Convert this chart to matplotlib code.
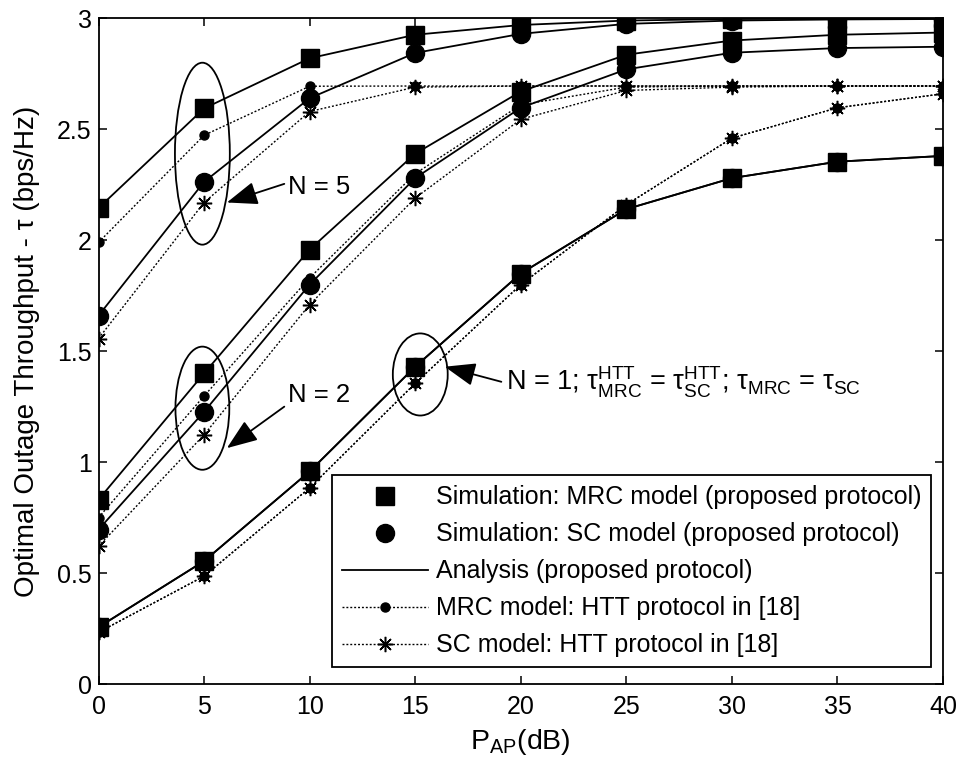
import matplotlib
matplotlib.use('Agg')
import matplotlib.pyplot as plt
from matplotlib.lines import Line2D
from matplotlib.patches import Ellipse

plt.rcParams['font.family'] = ['Liberation Sans', 'DejaVu Sans']
plt.rcParams['mathtext.fontset'] = 'custom'
plt.rcParams['mathtext.rm'] = 'Liberation Sans'
plt.rcParams['mathtext.it'] = 'Liberation Sans'
plt.rcParams['mathtext.sf'] = 'Liberation Sans'

p_ap = [0, 5, 10, 15, 20, 25, 30, 35, 40]

# N = 5
mrc_n5 = [2.145, 2.594, 2.82, 2.926, 2.97, 2.99, 2.997, 2.999, 3.0]
sc_n5 = [1.66, 2.263, 2.64, 2.844, 2.93, 2.975, 2.99, 2.995, 2.997]
htt_mrc_n5 = [1.99, 2.473, 2.694, 2.695, 2.695, 2.695, 2.695, 2.695, 2.695]
htt_sc_n5 = [1.557, 2.17, 2.58, 2.69, 2.695, 2.695, 2.695, 2.695, 2.695]

# N = 2
mrc_n2 = [0.831, 1.40, 1.958, 2.39, 2.67, 2.836, 2.90, 2.926, 2.936]
sc_n2 = [0.696, 1.227, 1.80, 2.28, 2.597, 2.77, 2.845, 2.866, 2.872]
htt_mrc_n2 = [0.75, 1.298, 1.83, 2.30, 2.61, 2.69, 2.695, 2.695, 2.695]
htt_sc_n2 = [0.621, 1.123, 1.71, 2.19, 2.545, 2.675, 2.69, 2.695, 2.695]

# N = 1 (MRC = SC, HTT MRC = HTT SC)
mrc_n1 = [0.256, 0.554, 0.958, 1.43, 1.85, 2.14, 2.28, 2.354, 2.38]
sc_n1 = [0.256, 0.554, 0.958, 1.43, 1.85, 2.14, 2.28, 2.354, 2.38]
htt_mrc_n1 = [0.233, 0.486, 0.884, 1.355, 1.80, 2.16, 2.46, 2.597, 2.66]
htt_sc_n1 = [0.233, 0.486, 0.884, 1.355, 1.80, 2.16, 2.46, 2.597, 2.66]

legend_labels = ['Simulation: MRC model (proposed protocol)',
                 'Simulation: SC model (proposed protocol)',
                 'Analysis (proposed protocol)',
                 'MRC model: HTT protocol in [18]',
                 'SC model: HTT protocol in [18]']

dot_style = (0, (1.4, 1.4))
star = (8, 2, 0)


def draw_group(ax, mrc, sc, htt_mrc, htt_sc):
    ax.plot(p_ap, htt_mrc, color='k', linestyle=dot_style, lw=1.0,
            marker='o', ms=6.5)
    ax.plot(p_ap, htt_sc, color='k', linestyle=dot_style, lw=1.0,
            marker=star, ms=11, mew=1.1)
    ax.plot(p_ap, mrc, color='k', lw=1.3)
    ax.plot(p_ap, sc, color='k', lw=1.3)
    ax.plot(p_ap, mrc, 's', color='k', ms=12.5)
    ax.plot(p_ap, sc, 'o', color='k', ms=13)


def arrow(ax, tip, tail):
    ax.annotate('', xy=tip, xytext=tail,
                arrowprops=dict(arrowstyle='-|>,head_length=0.95,head_width=0.36',
                                mutation_scale=20, lw=1.3, color='k',
                                shrinkA=0, shrinkB=0))


def main():
    fig = plt.figure(figsize=(9.61, 7.67), dpi=100)
    ax = fig.add_axes([0.1025, 0.1082, 0.9813 - 0.1025, 0.9761 - 0.1082])

    draw_group(ax, mrc_n5, sc_n5, htt_mrc_n5, htt_sc_n5)
    draw_group(ax, mrc_n2, sc_n2, htt_mrc_n2, htt_sc_n2)
    draw_group(ax, mrc_n1, sc_n1, htt_mrc_n1, htt_sc_n1)

    # ellipses + arrows
    ax.add_patch(Ellipse((4.92, 2.39), 2.6, 0.82, fill=False, lw=1.3, color='k'))
    ax.add_patch(Ellipse((4.92, 1.243), 2.55, 0.555, fill=False, lw=1.3, color='k'))
    ax.add_patch(Ellipse((15.24, 1.395), 2.6, 0.37, fill=False, lw=1.3, color='k'))

    arrow(ax, (6.08, 2.17), (8.8, 2.254))
    arrow(ax, (6.08, 1.063), (8.8, 1.25))
    arrow(ax, (16.4, 1.43), (19.08, 1.362))

    ax.text(8.97, 2.207, 'N = 5', fontsize=18.5, va='baseline')
    ax.text(8.97, 1.272, 'N = 2', fontsize=18.5, va='baseline')
    ax.text(19.3, 1.325,
            r'N = 1; $\mathregular{\tau^{HTT}_{MRC}}$ = '
            r'$\mathregular{\tau^{HTT}_{SC}}$; $\mathregular{\tau_{MRC}}$ = '
            r'$\mathregular{\tau_{SC}}$',
            fontsize=19.5, va='baseline')

    ax.set_xlim(0, 40)
    ax.set_ylim(0, 3)
    ax.set_xticks(p_ap)
    ax.set_yticks([0, 0.5, 1, 1.5, 2, 2.5, 3])
    ax.set_yticklabels(['0', '0.5', '1', '1.5', '2', '2.5', '3'])
    ax.tick_params(direction='in', top=True, right=True, length=6, width=1.1,
                   labelsize=18)
    ax.tick_params(axis='x', pad=8)
    ax.tick_params(axis='y', pad=5)
    for s in ax.spines.values():
        s.set_linewidth(1.3)

    ax.set_xlabel(r'P$_{\mathregular{AP}}$(dB)', fontsize=20.5, labelpad=6)
    ax.set_ylabel('Optimal Outage Throughput - τ (bps/Hz)', fontsize=20, labelpad=12)

    handles = [
        Line2D([], [], color='k', marker='s', ms=12.5, linestyle='none'),
        Line2D([], [], color='k', marker='o', ms=13, linestyle='none'),
        Line2D([], [], color='k', lw=1.3),
        Line2D([], [], color='k', linestyle=dot_style, lw=1.0, marker='o', ms=6.5),
        Line2D([], [], color='k', linestyle=dot_style, lw=1.0, marker=star, ms=11, mew=1.1),
    ]
    leg = ax.legend(handles, legend_labels, loc='lower right',
                    bbox_to_anchor=(0.986, 0.025), fontsize=18,
                    handlelength=3.45, handletextpad=0.3, labelspacing=0.52,
                    borderpad=0.4, borderaxespad=0, fancybox=False,
                    framealpha=1, edgecolor='k', numpoints=1)
    leg.get_frame().set_linewidth(1.3)

    fig.savefig('out.png', dpi=100)
    plt.close('all')


if __name__ == '__main__':
    main()
